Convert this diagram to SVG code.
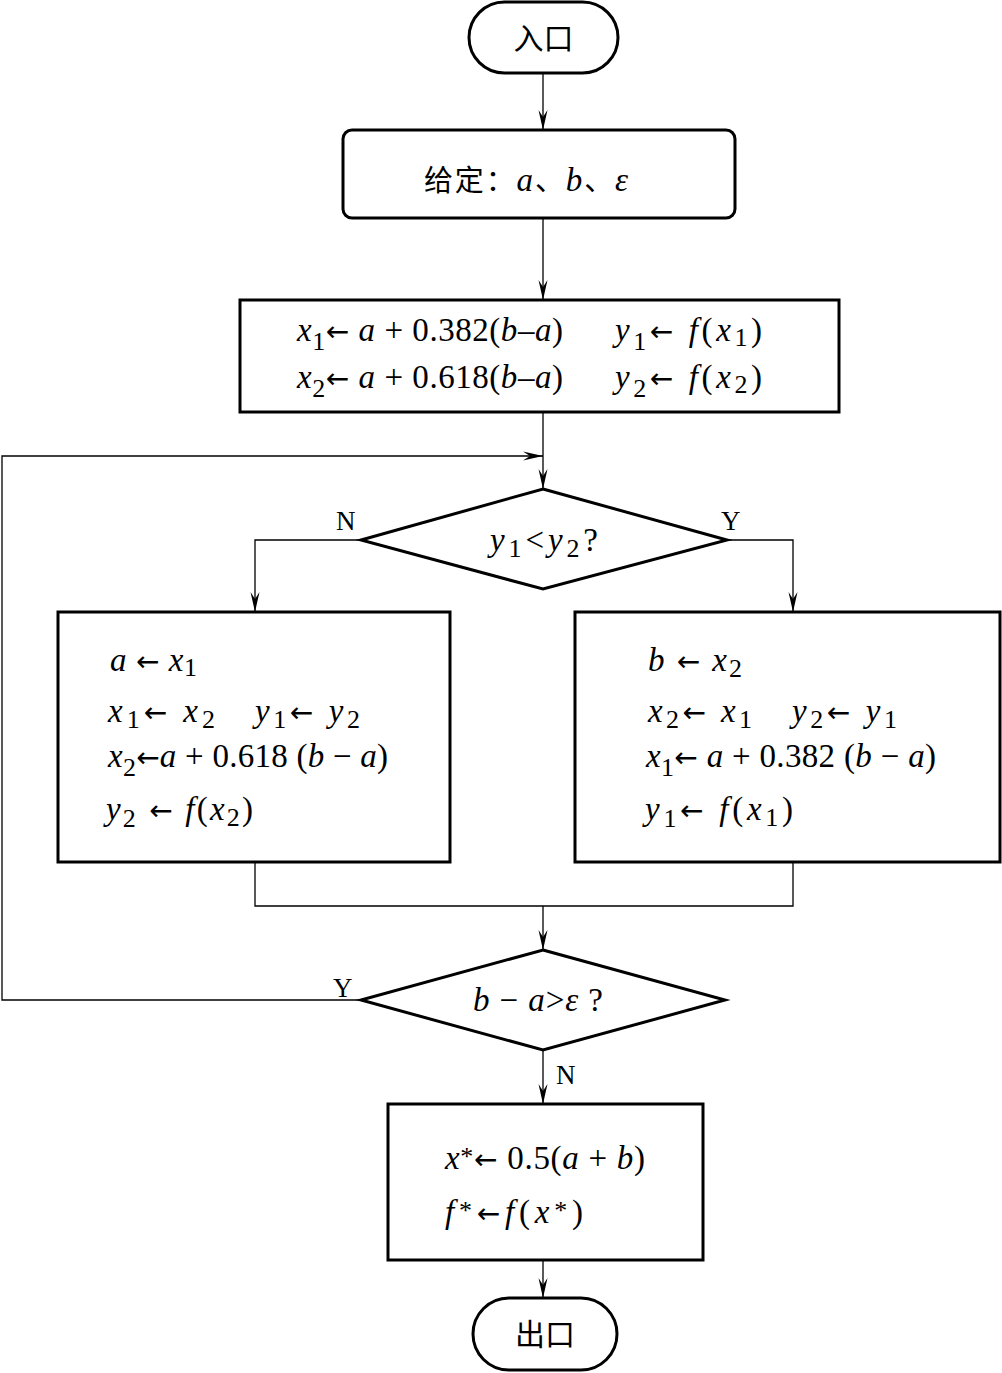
<svg xmlns="http://www.w3.org/2000/svg" width="1002" height="1373" viewBox="0 0 1002 1373">
<style>
.node{fill:#fff;stroke:#000;stroke-width:3}
.conn{fill:none;stroke:#000;stroke-width:1.3}
text{font-family:"Liberation Serif","Times New Roman",serif;font-size:33px;fill:#000}
.cjk{font-family:"Noto Sans CJK SC","Noto Sans CJK TC",sans-serif;font-size:29px}
.i{font-style:italic}
.s{font-size:26px}
.ar{font-family:"DejaVu Sans",sans-serif;font-size:28px}
.lbl{font-size:27px}
</style>
<defs>
<marker id="arr" markerUnits="userSpaceOnUse" markerWidth="24" markerHeight="12" viewBox="-22 -6 24 12" refX="0" refY="0" orient="auto">
<path d="M0,0 L-20,-4.5 L-13,0 L-20,4.5 Z" fill="#000"/>
</marker>
</defs>
<g id="connectors">
<line class="conn" x1="543" y1="73" x2="543" y2="130" marker-end="url(#arr)"/>
<line class="conn" x1="543" y1="218" x2="543" y2="300" marker-end="url(#arr)"/>
<line class="conn" x1="543" y1="412" x2="543" y2="489" marker-end="url(#arr)"/>
<polyline class="conn" points="361,540 255,540 255,612" marker-end="url(#arr)"/>
<polyline class="conn" points="727,540 793,540 793,612" marker-end="url(#arr)"/>
<polyline class="conn" points="255,862 255,906 793,906 793,862"/>
<line class="conn" x1="543" y1="906" x2="543" y2="950" marker-end="url(#arr)"/>
<polyline class="conn" points="361,1000 2,1000 2,456 543,456" marker-end="url(#arr)"/>
<line class="conn" x1="543" y1="1050" x2="543" y2="1104" marker-end="url(#arr)"/>
<line class="conn" x1="543" y1="1260" x2="543" y2="1298" marker-end="url(#arr)"/>
<text class="lbl" x="336" y="530">N</text>
<text class="lbl" x="721" y="530">Y</text>
<text class="lbl" x="333" y="997">Y</text>
<text class="lbl" x="556" y="1084">N</text>
</g>
<g id="entry">
<rect class="node" x="469" y="2" width="149" height="71" rx="35.5"/>
<text class="cjk" x="543.5" y="49" text-anchor="middle" style="font-size:30px">入口</text>
</g>
<g id="given">
<rect class="node" x="343" y="130" width="392" height="88" rx="9"/>
<text x="424" y="191" textLength="204" lengthAdjust="spacing"><tspan class="cjk">给定：</tspan><tspan class="i">a</tspan><tspan class="cjk">、</tspan><tspan class="i">b</tspan><tspan class="cjk">、</tspan><tspan class="i">ε</tspan></text>
</g>
<g id="init">
<rect class="node" x="240" y="300" width="599" height="112"/>
<text x="297" y="341" textLength="266" lengthAdjust="spacing"><tspan class="i">x</tspan><tspan class="s" dy="9">1</tspan><tspan class="ar" dy="-9">←</tspan><tspan class="i"> a</tspan> + 0.382(<tspan class="i">b</tspan>–<tspan class="i">a</tspan>)</text>
<text x="615" y="341" textLength="147" lengthAdjust="spacing"><tspan class="i">y</tspan><tspan class="s" dy="9">1</tspan><tspan class="ar" dy="-9">←</tspan><tspan class="i"> f</tspan>(<tspan class="i">x</tspan><tspan class="s" dy="5">1</tspan><tspan dy="-5">)</tspan></text>
<text x="297" y="388" textLength="266" lengthAdjust="spacing"><tspan class="i">x</tspan><tspan class="s" dy="9">2</tspan><tspan class="ar" dy="-9">←</tspan><tspan class="i"> a</tspan> + 0.618(<tspan class="i">b</tspan>–<tspan class="i">a</tspan>)</text>
<text x="615" y="388" textLength="147" lengthAdjust="spacing"><tspan class="i">y</tspan><tspan class="s" dy="9">2</tspan><tspan class="ar" dy="-9">←</tspan><tspan class="i"> f</tspan>(<tspan class="i">x</tspan><tspan class="s" dy="5">2</tspan><tspan dy="-5">)</tspan></text>
</g>
<g id="cond1">
<polygon class="node" points="543,489 727,540 543,589 361,540"/>
<text x="490" y="551" textLength="108" lengthAdjust="spacing"><tspan class="i">y</tspan><tspan class="s" dy="6">1</tspan><tspan dy="-6">&lt;</tspan><tspan class="i">y</tspan><tspan class="s" dy="6">2</tspan><tspan dy="-6">?</tspan></text>
</g>
<g id="branchN">
<rect class="node" x="58" y="612" width="392" height="250"/>
<text x="110" y="671" textLength="87" lengthAdjust="spacing"><tspan class="i">a</tspan> <tspan class="ar">←</tspan> <tspan class="i">x</tspan><tspan class="s" dy="5">1</tspan></text>
<text x="108" y="722" textLength="107" lengthAdjust="spacing"><tspan class="i">x</tspan><tspan class="s" dy="6">1</tspan><tspan class="ar" dy="-6">←</tspan> <tspan class="i">x</tspan><tspan class="s" dy="6">2</tspan></text>
<text x="255" y="722" textLength="105" lengthAdjust="spacing"><tspan class="i">y</tspan><tspan class="s" dy="6">1</tspan><tspan class="ar" dy="-6">←</tspan> <tspan class="i">y</tspan><tspan class="s" dy="6">2</tspan></text>
<text x="108" y="767" textLength="280" lengthAdjust="spacing"><tspan class="i">x</tspan><tspan class="s" dy="9">2</tspan><tspan class="ar" dy="-9">←</tspan><tspan class="i">a</tspan> + 0.618 (<tspan class="i">b</tspan> − <tspan class="i">a</tspan>)</text>
<text x="106" y="820" textLength="147" lengthAdjust="spacing"><tspan class="i">y</tspan><tspan class="s" dy="7">2</tspan><tspan class="ar" dy="-7"> ←</tspan><tspan class="i"> f</tspan>(<tspan class="i">x</tspan><tspan class="s" dy="6">2</tspan><tspan dy="-6">)</tspan></text>
</g>
<g id="branchY">
<rect class="node" x="575" y="612" width="425" height="250"/>
<text x="648" y="671" textLength="94" lengthAdjust="spacing"><tspan class="i">b</tspan> <tspan class="ar">←</tspan> <tspan class="i">x</tspan><tspan class="s" dy="6">2</tspan></text>
<text x="648" y="722" textLength="104" lengthAdjust="spacing"><tspan class="i">x</tspan><tspan class="s" dy="6">2</tspan><tspan class="ar" dy="-6">←</tspan> <tspan class="i">x</tspan><tspan class="s" dy="6">1</tspan></text>
<text x="792" y="722" textLength="105" lengthAdjust="spacing"><tspan class="i">y</tspan><tspan class="s" dy="6">2</tspan><tspan class="ar" dy="-6">←</tspan> <tspan class="i">y</tspan><tspan class="s" dy="6">1</tspan></text>
<text x="646" y="767" textLength="290" lengthAdjust="spacing"><tspan class="i">x</tspan><tspan class="s" dy="9">1</tspan><tspan class="ar" dy="-9">←</tspan><tspan class="i"> a</tspan> + 0.382 (<tspan class="i">b</tspan> − <tspan class="i">a</tspan>)</text>
<text x="645" y="820" textLength="148" lengthAdjust="spacing"><tspan class="i">y</tspan><tspan class="s" dy="7">1</tspan><tspan class="ar" dy="-7">←</tspan><tspan class="i"> f</tspan>(<tspan class="i">x</tspan><tspan class="s" dy="6">1</tspan><tspan dy="-6">)</tspan></text>
</g>
<g id="cond2">
<polygon class="node" points="543,950 725,1000 543,1050 361,1000"/>
<text x="473" y="1011" textLength="130" lengthAdjust="spacing"><tspan class="i">b</tspan> − <tspan class="i">a</tspan>&gt;<tspan class="i">ε</tspan> ?</text>
</g>
<g id="result">
<rect class="node" x="388" y="1104" width="315" height="156"/>
<text x="445" y="1169" textLength="200" lengthAdjust="spacing"><tspan class="i">x</tspan><tspan class="s" dy="-4">*</tspan><tspan class="ar" dy="4">←</tspan> 0.5(<tspan class="i">a</tspan> + <tspan class="i">b</tspan>)</text>
<text x="445" y="1223" textLength="138" lengthAdjust="spacing"><tspan class="i">f</tspan><tspan class="s" dy="-4">*</tspan><tspan class="ar" dy="4">←</tspan><tspan class="i">f</tspan>(<tspan class="i">x</tspan><tspan class="s" dy="-4">*</tspan><tspan dy="4">)</tspan></text>
</g>
<g id="exit">
<rect class="node" x="473" y="1298" width="144" height="72" rx="36"/>
<text class="cjk" x="545" y="1345" text-anchor="middle" style="font-size:30px">出口</text>
</g>
</svg>
